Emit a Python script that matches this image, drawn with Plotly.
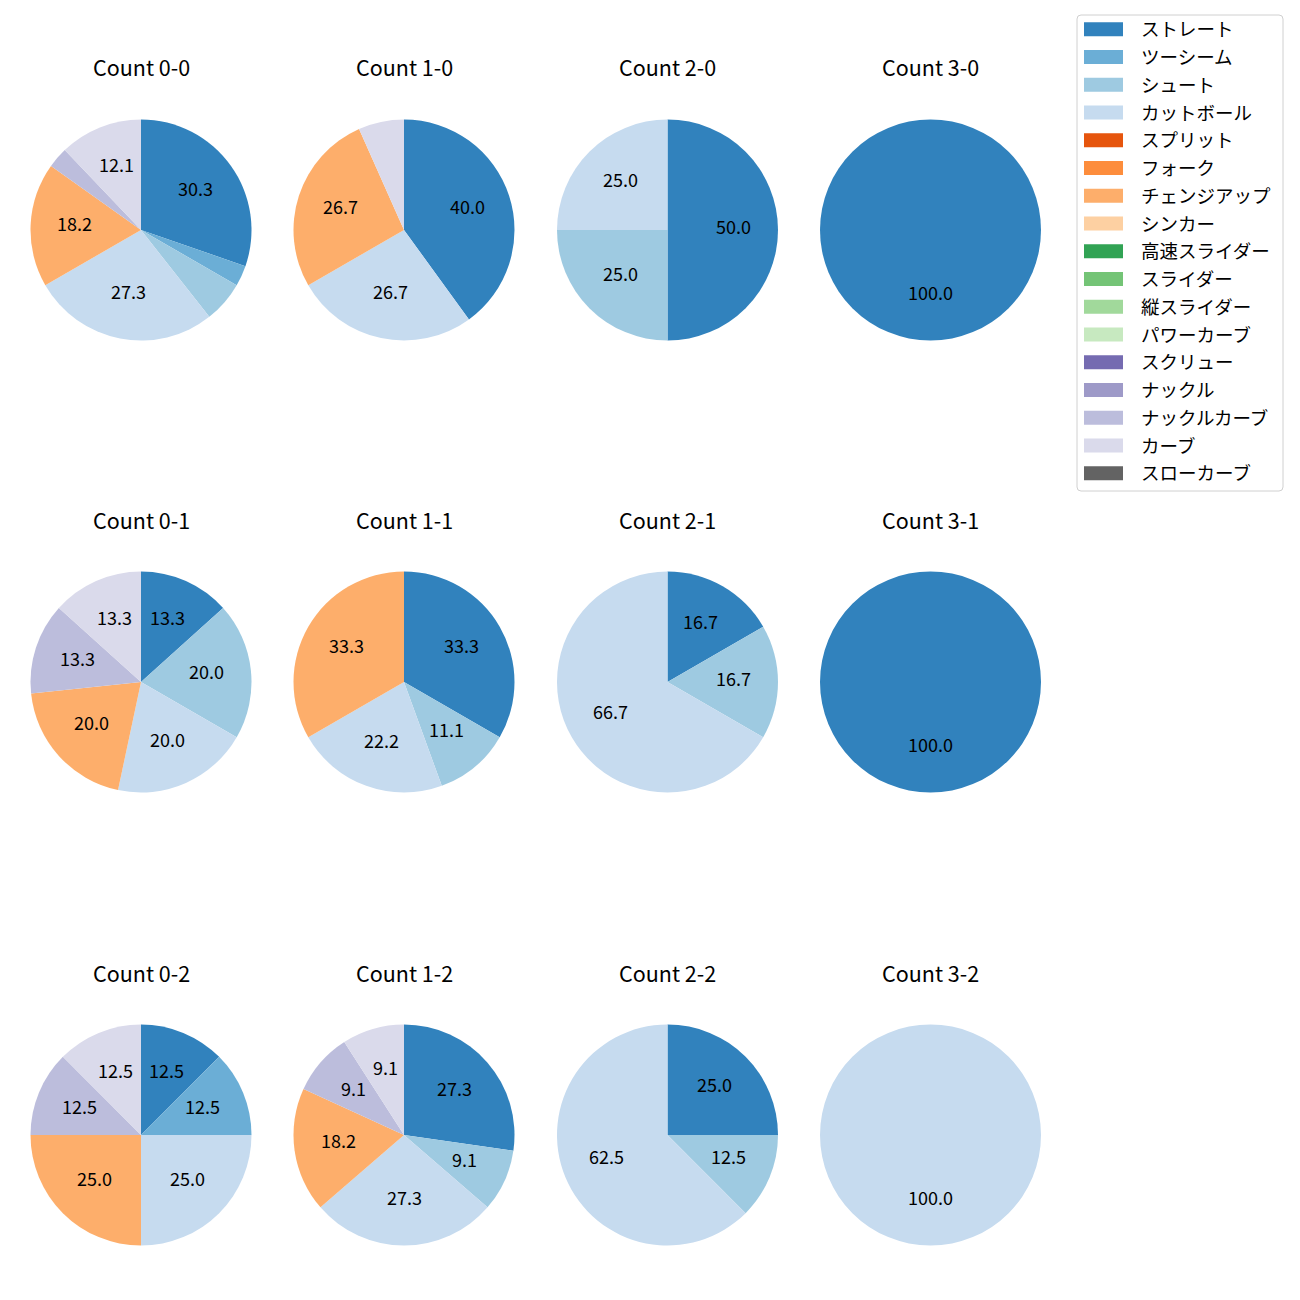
import math
import plotly.graph_objects as go

W = H = 1300
OFF = 8  # page body margin
FONT = "Noto Sans CJK JP"

pitch_names = ["ストレート", "ツーシーム", "シュート", "カットボール", "スプリット", "フォーク",
               "チェンジアップ", "シンカー", "高速スライダー", "スライダー", "縦スライダー",
               "パワーカーブ", "スクリュー", "ナックル", "ナックルカーブ", "カーブ", "スローカーブ"]
pitch_colors = ["#3182bd", "#6baed6", "#9ecae1", "#c6dbef", "#e6550d", "#fd8d3c",
                "#fdae6b", "#fdd0a2", "#31a354", "#74c476", "#a1d99b", "#c7e9c0",
                "#756bb1", "#9e9ac8", "#bcbddc", "#dadaeb", "#636363"]

# pitch counts per ball-strike count (order follows pitch_names)
count_0_0 = [10, 1, 2, 9, 0, 0, 6, 0, 0, 0, 0, 0, 0, 0, 1, 4, 0]
count_1_0 = [6, 0, 0, 4, 0, 0, 4, 0, 0, 0, 0, 0, 0, 0, 0, 1, 0]
count_2_0 = [2, 0, 1, 1, 0, 0, 0, 0, 0, 0, 0, 0, 0, 0, 0, 0, 0]
count_3_0 = [1, 0, 0, 0, 0, 0, 0, 0, 0, 0, 0, 0, 0, 0, 0, 0, 0]
count_0_1 = [2, 0, 3, 3, 0, 0, 3, 0, 0, 0, 0, 0, 0, 0, 2, 2, 0]
count_1_1 = [3, 0, 1, 2, 0, 0, 3, 0, 0, 0, 0, 0, 0, 0, 0, 0, 0]
count_2_1 = [1, 0, 1, 4, 0, 0, 0, 0, 0, 0, 0, 0, 0, 0, 0, 0, 0]
count_3_1 = [1, 0, 0, 0, 0, 0, 0, 0, 0, 0, 0, 0, 0, 0, 0, 0, 0]
count_0_2 = [1, 1, 0, 2, 0, 0, 2, 0, 0, 0, 0, 0, 0, 0, 1, 1, 0]
count_1_2 = [3, 0, 1, 3, 0, 0, 2, 0, 0, 0, 0, 0, 0, 0, 1, 1, 0]
count_2_2 = [2, 0, 1, 5, 0, 0, 0, 0, 0, 0, 0, 0, 0, 0, 0, 0, 0]
count_3_2 = [0, 0, 0, 1, 0, 0, 0, 0, 0, 0, 0, 0, 0, 0, 0, 0, 0]

panels = [
    ("Count 0-0", count_0_0), ("Count 1-0", count_1_0), ("Count 2-0", count_2_0), ("Count 3-0", count_3_0),
    ("Count 0-1", count_0_1), ("Count 1-1", count_1_1), ("Count 2-1", count_2_1), ("Count 3-1", count_3_1),
    ("Count 0-2", count_0_2), ("Count 1-2", count_1_2), ("Count 2-2", count_2_2), ("Count 3-2", count_3_2),
]

col_cx = [141, 404, 667.5, 930.5]
row_cy = [230, 682, 1135]
R = 110.5
LABEL_MIN = 8.0


def px(x):
    return (x - OFF) / W


def py(y):
    return 1 - (y - OFF) / H


fig = go.Figure()
annotations = []
shapes = []

for k, (title, counts) in enumerate(panels):
    row, col = divmod(k, 4)
    cx, cy = col_cx[col], row_cy[row]
    labels = [n for n, c in zip(pitch_names, counts) if c > 0]
    vals = [c for c in counts if c > 0]
    cols = [pitch_colors[i] for i, c in enumerate(counts) if c > 0]
    fig.add_trace(go.Pie(
        labels=labels, values=vals, sort=False, direction="clockwise", rotation=0,
        marker=dict(colors=cols, line=dict(width=0)),
        textinfo="none", hoverinfo="label+percent", showlegend=False,
        domain=dict(x=[px(cx - R), px(cx + R)], y=[py(cy + R), py(cy - R)]),
    ))
    total = sum(vals)
    cum = 0.0
    for v in vals:
        frac = v / total
        mid = cum + frac / 2
        cum += frac
        pct = frac * 100
        if pct < LABEL_MIN:
            continue
        ang = math.radians(90 - 360 * mid)
        x = cx + 0.6 * R * math.cos(ang)
        y = cy - 0.6 * R * math.sin(ang) - 4
        annotations.append(dict(x=px(x), y=py(y), xref="paper", yref="paper",
                                text=f"{pct:.1f}", showarrow=False,
                                font=dict(family=FONT, size=18, color="#000000"),
                                xanchor="center", yanchor="middle"))
    annotations.append(dict(x=px(cx), y=py(cy - 163), xref="paper", yref="paper",
                            text=title, showarrow=False,
                            font=dict(family=FONT, size=21.5, color="#000000"),
                            xanchor="center", yanchor="middle"))

# legend box (rounded)
x0, y0, x1, y1, rr = 1077, 15, 1283, 491, 4
path = (f"M {px(x0+rr)},{py(y0)} L {px(x1-rr)},{py(y0)} Q {px(x1)},{py(y0)} {px(x1)},{py(y0+rr)} "
        f"L {px(x1)},{py(y1-rr)} Q {px(x1)},{py(y1)} {px(x1-rr)},{py(y1)} "
        f"L {px(x0+rr)},{py(y1)} Q {px(x0)},{py(y1)} {px(x0)},{py(y1-rr)} "
        f"L {px(x0)},{py(y0+rr)} Q {px(x0)},{py(y0)} {px(x0+rr)},{py(y0)} Z")
shapes.append(dict(type="path", path=path, xref="paper", yref="paper",
                   line=dict(color="#d0d0d0", width=1), fillcolor="rgba(255,255,255,0.8)"))
for i, (name, c) in enumerate(zip(pitch_names, pitch_colors)):
    yc = 29.3 + 27.75 * i
    shapes.append(dict(type="rect", xref="paper", yref="paper",
                       x0=px(1084), x1=px(1123), y0=py(yc + 7), y1=py(yc - 7),
                       line=dict(width=0), fillcolor=c))
    annotations.append(dict(x=px(1139), y=py(yc - 1), xref="paper", yref="paper",
                            text=name, showarrow=False, xanchor="left", yanchor="middle",
                            font=dict(family=FONT, size=18.5, color="#000000")))

fig.update_layout(width=W, height=H, margin=dict(l=0, r=0, t=0, b=0),
                  paper_bgcolor="white", plot_bgcolor="white",
                  annotations=annotations, shapes=shapes, showlegend=False,
                  font=dict(family=FONT))
fig.write_html("out.html")
